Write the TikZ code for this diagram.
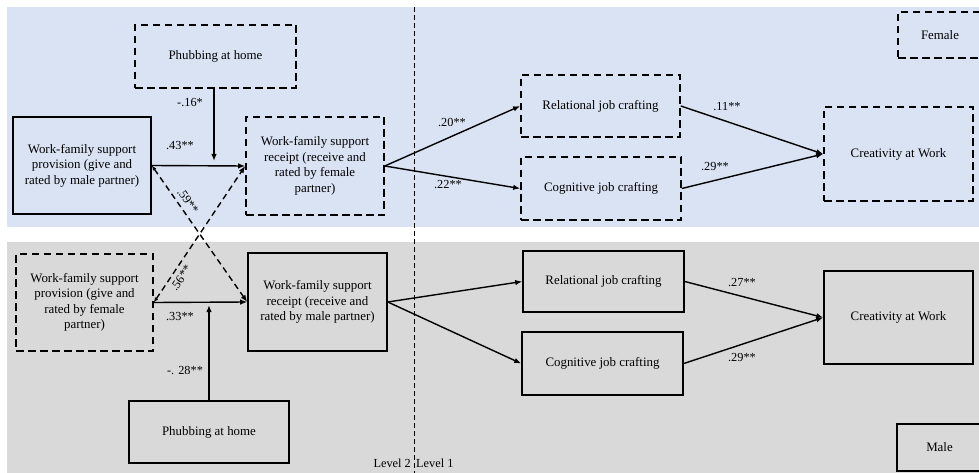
\documentclass[tikz,border=0pt]{standalone}
\usepackage{fontspec}
\setmainfont{Liberation Serif}
\usetikzlibrary{arrows.meta}
\definecolor{bgblue}{HTML}{DAE3F3}
\definecolor{bggray}{HTML}{D9D9D9}
\begin{document}
\begin{tikzpicture}[x=1pt,y=-1pt,
  every node/.style={font=\fontsize{12.9}{15.5}\selectfont, inner sep=0pt},
  boxs/.style={draw, line width=1.6pt, align=center},
  boxd/.style={boxs, dash pattern=on 7.5pt off 4.5pt},
  arr/.style={line width=1.4pt, -{Latex[length=7pt,width=5.5pt]}},
  darr/.style={line width=1.4pt, dash pattern=on 6pt off 4pt, {Latex[length=5pt,width=4pt,open]}-{Latex[length=7pt,width=5.5pt]}},
  lbl/.style={font=\fontsize{12.3}{14}\selectfont}]
\useasboundingbox (0,0) rectangle (979,473);
\fill[bgblue] (7,7) rectangle (979,227);
\fill[bggray] (7,242) rectangle (979,473);
% female (top)
\node[boxd, minimum width=161pt, minimum height=63pt] (phF) at (215.5,56.5) {Phubbing at home};
\node[boxs, minimum width=138pt, minimum height=97pt] (provM) at (82,165.5) {Work-family support\\provision (give and\\rated by male partner)};
\node[boxd, minimum width=138pt, minimum height=98pt] (recF) at (315,166) {Work-family support\\receipt (receive and\\rated by female\\partner)};
\node[boxd, minimum width=159pt, minimum height=62pt] (relF) at (600.5,106) {Relational job crafting};
\node[boxd, minimum width=160pt, minimum height=63pt] (cogF) at (601,188.5) {Cognitive job crafting};
\node[boxd, minimum width=149pt, minimum height=94pt] (creF) at (898.5,154) {Creativity at Work};
\node[boxd, minimum width=84pt, minimum height=46pt] (femL) at (940,35) {Female};
% male (bottom)
\node[boxd, minimum width=137pt, minimum height=97pt] (provFem) at (84.5,302.5) {Work-family support\\provision (give and\\rated by female\\partner)};
\node[boxs, minimum width=139pt, minimum height=98pt] (recM) at (317.5,302) {Work-family support\\receipt (receive and\\rated by male partner)};
\node[boxs, minimum width=160pt, minimum height=62pt] (phM) at (209,432) {Phubbing at home};
\node[boxs, minimum width=161pt, minimum height=61pt] (relM) at (603.5,281.5) {Relational job crafting};
\node[boxs, minimum width=161pt, minimum height=63pt] (cogM) at (602.5,363.5) {Cognitive job crafting};
\node[boxs, minimum width=149pt, minimum height=93pt] (creM) at (898.5,317.5) {Creativity at Work};
\node[boxs, minimum width=85pt, minimum height=47pt] (maleL) at (939.5,447.5) {Male};
% level line
\coordinate (lvTop) at (414,7);
\coordinate (lvBot) at (414,473);
\draw[line width=0.9pt, dash pattern=on 5pt off 3pt] (lvTop) -- (lvBot);
\node[lbl, anchor=east] (lv2) at (411,463) {Level 2};
\node[lbl, anchor=west] (lv1) at (416,463) {Level 1};
% connectors female
\coordinate (mF) at (214,161);
\coordinate (mM) at (209,305);
\draw[arr] (provM.east) -- (recF.west);
\draw[arr] (phF.south -| mF) -- (mF);
\draw[arr] (recF.east) -- (relF.west);
\draw[arr] (recF.east) -- (cogF.west);
\draw[arr] (relF.east) -- (creF.west);
\draw[arr] (cogF.east) -- (creF.west);
% connectors male
\draw[arr] (provFem.east) -- (recM.west);
\draw[arr] (phM.north -| mM) -- (mM);
\draw[arr] (recM.east) -- (relM.west);
\draw[arr] (recM.east) -- (cogM.west);
\draw[arr] (relM.east) -- (creM.west);
\draw[arr] (cogM.east) -- (creM.west);
% cross-partner dashed
\draw[darr] (provM.east) -- (recM.west);
\draw[darr] (provFem.east) -- (recF.west);
% labels
\node[lbl] (l16) at (190,103) {-.16*};
\node[lbl] (l43) at (180,146) {.43**};
\node[lbl, rotate=-54.5] (l59) at (188,201) {.59**};
\node[lbl, rotate=55.5] (l56) at (181,278) {.56**};
\node[lbl] (l33) at (180,317) {.33**};
\node[lbl] (l28) at (185,370) {-. 28**};
\node[lbl] (l20) at (452,122) {.20**};
\node[lbl] (l22) at (448,185) {.22**};
\node[lbl] (l11) at (727,107) {.11**};
\node[lbl] (l29a) at (715,167) {.29**};
\node[lbl] (l27) at (742,283) {.27**};
\node[lbl] (l29b) at (742,358) {.29**};
\end{tikzpicture}
\end{document}
